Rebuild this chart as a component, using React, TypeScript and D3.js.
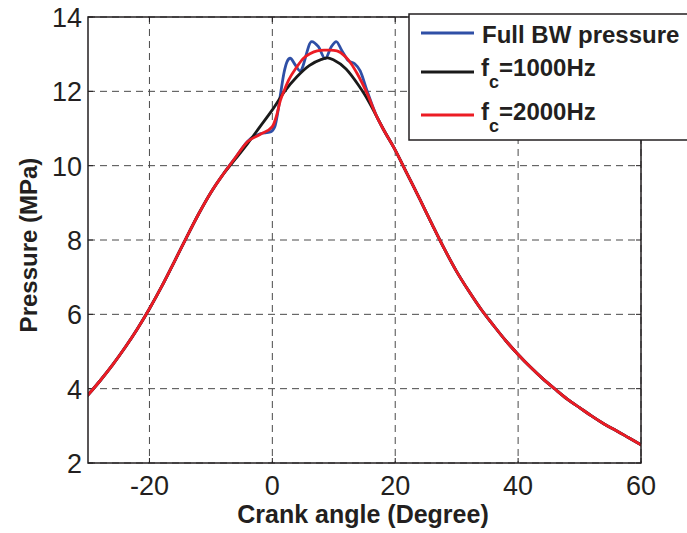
import React from 'react';
import * as d3 from 'd3';

// Axis ticks
const angleTicks = [-20, 0, 20, 40, 60];
const pressureTicks = [2, 4, 6, 8, 10, 12, 14];

// Compression stroke, shared by all three traces (crank angle in degrees, pressure in MPa)
const compressionAngle = [-30, -28, -26, -24, -22, -20, -18, -16, -14, -12, -10, -8];
const compressionPressure = [3.83, 4.22, 4.64, 5.1, 5.6, 6.15, 6.75, 7.4, 8.06, 8.7, 9.28, 9.77];

// Expansion stroke, shared by all three traces
const expansionAngle = [18, 20, 22, 24, 26, 28, 30, 32, 34, 36, 38, 40, 42, 44, 46, 48, 50, 52, 54, 56, 58, 60];
const expansionPressure = [11.0, 10.42, 9.76, 9.1, 8.42, 7.76, 7.15, 6.62, 6.13, 5.7, 5.29, 4.92, 4.58, 4.27, 3.99, 3.72, 3.49, 3.26, 3.05, 2.87, 2.68, 2.49];

// Combustion region of each trace
const fullBwAngle = [-6, -4, -2, -0.3, 0.4, 0.9, 1.4, 1.9, 2.4, 2.9, 3.7, 4.5, 6.4, 7.5, 8.6, 9.6, 10.4, 11.3, 12.4, 13.4, 14.3, 15.4, 17];
const fullBwPressure = [10.22, 10.66, 10.86, 10.91, 11.05, 11.45, 12.0, 12.5, 12.8, 12.89, 12.72, 12.55, 13.34, 13.2, 12.88, 13.2, 13.34, 13.1, 12.82, 12.74, 12.55, 12.02, 11.32];

const fc1000Angle = [-6, -4, -2, 0, 2, 4, 6, 8, 9, 10, 12, 14, 15, 17];
const fc1000Pressure = [10.18, 10.6, 11.05, 11.5, 12.0, 12.39, 12.69, 12.86, 12.9, 12.84, 12.6, 12.17, 11.92, 11.32];

const fc2000Angle = [-6, -4, -2, 0, 0.7, 1.3, 2, 2.65, 4, 5, 6.2, 7.3, 8.4, 9.5, 10.5, 11.9, 12.8, 13.8, 15.4, 17];
const fc2000Pressure = [10.22, 10.65, 10.84, 11.05, 11.35, 11.75, 12.05, 12.3, 12.66, 12.88, 13.02, 13.09, 13.11, 13.11, 13.09, 12.93, 12.75, 12.48, 11.95, 11.32];

const seriesNames = ['Full BW pressure', '1000Hz', '2000Hz'];
const seriesColors = ['#2f4fa6', '#1a1a1a', '#ec1c24'];

type Pt = [number, number];

const zipPts = (a: number[], p: number[]): Pt[] => a.map((v, i) => [v, p[i]] as Pt);

const buildTrace = (a: number[], p: number[]): Pt[] => [
  ...zipPts(compressionAngle, compressionPressure),
  ...zipPts(a, p),
  ...zipPts(expansionAngle, expansionPressure),
];

const traces: Pt[][] = [
  buildTrace(fullBwAngle, fullBwPressure),
  buildTrace(fc1000Angle, fc1000Pressure),
  buildTrace(fc2000Angle, fc2000Pressure),
];

const W = 687;
const H = 533;
const plot = { left: 88, right: 641, top: 17, bottom: 463 };
const FONT = '"Liberation Sans", Arial, Helvetica, sans-serif';

export default function App() {
  const x = d3.scaleLinear().domain([-30, 60]).range([plot.left, plot.right]);
  const y = d3.scaleLinear().domain([2, 14]).range([plot.bottom, plot.top]);
  const line = d3
    .line<Pt>()
    .x((d) => x(d[0]))
    .y((d) => y(d[1]))
    .curve(d3.curveMonotoneX);

  const tickLen = 5;
  const legendRows = [33, 72, 115];

  return (
    <svg
      width={W}
      height={H}
      style={{ position: 'absolute', left: 0, top: 0, background: '#fff' }}
      fontFamily={FONT}
    >
      <rect x={0} y={0} width={W} height={H} fill="#fff" />
      <defs>
        <clipPath id="plotArea">
          <rect x={plot.left} y={plot.top} width={plot.right - plot.left} height={plot.bottom - plot.top} />
        </clipPath>
      </defs>

      {/* grid */}
      <g stroke="#4a4a4a" strokeWidth={1} strokeDasharray="7,5">
        {angleTicks.map((t) => (
          <line key={'gx' + t} x1={x(t)} x2={x(t)} y1={plot.top} y2={plot.bottom} />
        ))}
        {pressureTicks.map((t) => (
          <line key={'gy' + t} x1={plot.left} x2={plot.right} y1={y(t)} y2={y(t)} />
        ))}
      </g>

      {/* ticks */}
      <g stroke="#231f20" strokeWidth={1}>
        {angleTicks.map((t) => (
          <g key={'tx' + t}>
            <line x1={x(t)} x2={x(t)} y1={plot.bottom} y2={plot.bottom - tickLen} />
            <line x1={x(t)} x2={x(t)} y1={plot.top} y2={plot.top + tickLen} />
          </g>
        ))}
        {pressureTicks.map((t) => (
          <g key={'ty' + t}>
            <line x1={plot.left} x2={plot.left + tickLen} y1={y(t)} y2={y(t)} />
            <line x1={plot.right} x2={plot.right - tickLen} y1={y(t)} y2={y(t)} />
          </g>
        ))}
      </g>

      {/* traces */}
      <g clipPath="url(#plotArea)" fill="none" strokeLinejoin="round" strokeLinecap="round">
        {traces.map((tr, i) => (
          <path key={seriesNames[i]} d={line(tr) || ''} stroke={seriesColors[i]} strokeWidth={2.8} />
        ))}
      </g>

      {/* axes box */}
      <rect
        x={plot.left}
        y={plot.top}
        width={plot.right - plot.left}
        height={plot.bottom - plot.top}
        fill="none"
        stroke="#231f20"
        strokeWidth={1.5}
      />

      {/* tick labels */}
      <g fontSize={27} fill="#231f20">
        {angleTicks.map((t) => (
          <text key={'lx' + t} x={x(t)} y={plot.bottom + 32} textAnchor="middle">
            {t}
          </text>
        ))}
        {pressureTicks.map((t) => (
          <text key={'ly' + t} x={82} y={y(t) + 10} textAnchor="end">
            {t}
          </text>
        ))}
      </g>

      {/* axis titles */}
      <text x={363} y={523} textAnchor="middle" fontSize={25} fontWeight="bold" fill="#231f20">
        Crank angle (Degree)
      </text>
      <text
        transform="translate(37,245) rotate(-90)"
        textAnchor="middle"
        fontSize={24}
        fontWeight="bold"
        fill="#231f20"
      >
        Pressure (MPa)
      </text>

      {/* legend */}
      <rect x={409} y={14} width={300} height={126} fill="#fff" stroke="#231f20" strokeWidth={1.5} />
      {legendRows.map((ry, i) => (
        <line key={'ll' + i} x1={421} x2={474} y1={ry} y2={ry} stroke={seriesColors[i]} strokeWidth={2.8} />
      ))}
      <g fontWeight="bold" fill="#231f20" fontSize={24}>
        <text x={482} y={43}>{seriesNames[0]}</text>
        <text x={481} y={76}>
          f<tspan dy={12} fontSize={18}>c</tspan>
          <tspan dy={-12}>={seriesNames[1]}</tspan>
        </text>
        <text x={481} y={120}>
          f<tspan dy={12} fontSize={18}>c</tspan>
          <tspan dy={-12}>={seriesNames[2]}</tspan>
        </text>
      </g>
    </svg>
  );
}
